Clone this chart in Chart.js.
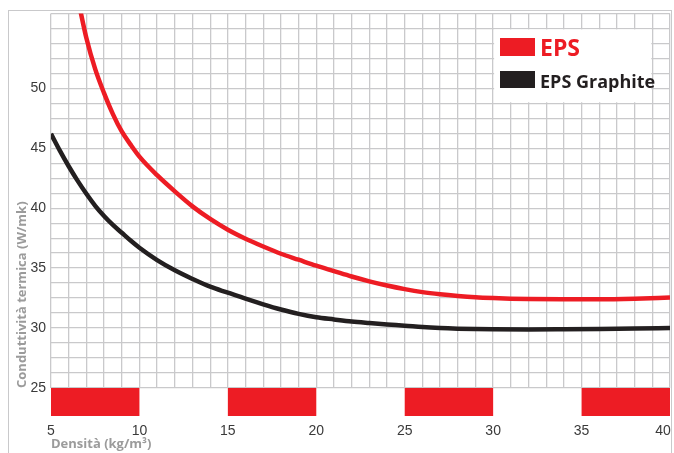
<!DOCTYPE html>
<html lang="it">
<head>
<meta charset="UTF-8">
<title>Conduttività termica EPS</title>
<script src="https://cdn.jsdelivr.net/npm/chart.js"></script>
<style>
  html, body { margin: 0; padding: 0; background: #fff; }
  #wrap { position: relative; width: 674px; height: 453px; }
  #frame {
    position: absolute; left: 8px; top: 10px; width: 664px; height: 460px;
    border-left: 1.5px solid #c9c9cb; border-top: 1.5px solid #c9c9cb; border-right: 1.5px solid #c9c9cb;
    box-sizing: border-box;
  }
  canvas { position: absolute; left: 0; top: 0; }
</style>
</head>
<body>
<div id="wrap">
  <div id="frame"></div>
  <canvas id="chart" width="674" height="453"></canvas>
</div>
<script>
// densità (kg/m3) and conduttività termica
const epsDensity = [6.6, 7, 7.5, 8, 8.5, 9, 9.5, 10, 11, 12, 13, 14, 15, 16, 17, 18, 19, 20, 21, 22, 23, 24, 25, 26, 27, 28, 29, 30, 31, 32, 34, 36, 38, 40];
const epsValues  = [56.9, 54.2, 51.6, 49.6, 47.85, 46.4, 45.3, 44.3, 42.75, 41.4, 40.15, 39.1, 38.2, 37.45, 36.8, 36.2, 35.7, 35.2, 34.75, 34.3, 33.9, 33.55, 33.25, 33.0, 32.82, 32.68, 32.57, 32.5, 32.45, 32.42, 32.4, 32.4, 32.45, 32.55];

const graphiteDensity = [5, 5.5, 6, 6.5, 7, 7.5, 8, 8.5, 9, 9.5, 10, 11, 12, 13, 14, 15, 16, 17, 18, 19, 20, 21, 22, 23, 24, 25, 26, 27, 28, 29, 30, 32, 34, 36, 38, 40];
const graphiteValues  = [46.2, 44.8, 43.5, 42.3, 41.2, 40.2, 39.35, 38.6, 37.95, 37.3, 36.7, 35.67, 34.82, 34.1, 33.45, 32.95, 32.45, 31.98, 31.55, 31.18, 30.9, 30.72, 30.55, 30.42, 30.3, 30.2, 30.08, 30.0, 29.95, 29.92, 29.9, 29.88, 29.9, 29.93, 29.97, 30.0];

const densityBands = [[5, 10], [15, 20], [25, 30], [35, 40]];
const xTickLabels = [5, 10, 15, 20, 25, 30, 35, 40];
const yTickLabels = [25, 30, 35, 40, 45, 50];

const RED = '#ed1c24';
const BLACK = '#231f20';
const GRID = '#c9c9cb';

const toPoints = (xs, ys) => xs.map((x, i) => ({ x: x, y: ys[i] }));

// red blocks under the grid + legend box inside the plot
const extras = {
  id: 'extras',
  afterDatasetsDraw(chart) {
    const { ctx, chartArea, scales: { x, y } } = chart;
    ctx.save();
    ctx.fillStyle = RED;
    densityBands.forEach(([a, b]) => {
      const x1 = x.getPixelForValue(a), x2 = x.getPixelForValue(b);
      ctx.fillRect(x1, chartArea.bottom, x2 - x1, 28);
    });

    // legend
    const lx1 = x.getPixelForValue(30) + 1, lx2 = x.getPixelForValue(39) - 1;
    const ly1 = y.getPixelForValue(55) + 1, ly2 = y.getPixelForValue(48.75) - 1;
    ctx.fillStyle = '#fff';
    ctx.fillRect(lx1, ly1, lx2 - lx1, ly2 - ly1);

    const ds = chart.data.datasets;
    ctx.fillStyle = ds[0].borderColor;
    ctx.fillRect(500, 38, 35, 18);
    ctx.fillStyle = ds[1].borderColor;
    ctx.fillRect(500, 71, 35, 17);

    ctx.textBaseline = 'alphabetic';
    ctx.textAlign = 'left';
    ctx.fillStyle = ds[0].borderColor;
    ctx.font = 'bold 23px "Open Sans"';
    ctx.fillText(ds[0].label, 540, 55.5);
    ctx.fillStyle = ds[1].borderColor;
    ctx.font = 'bold 18px "Open Sans"';
    ctx.fillText(ds[1].label, 540, 88);
    ctx.restore();
  }
};

new Chart(document.getElementById('chart'), {
  type: 'line',
  data: {
    datasets: [
      { label: 'EPS', data: toPoints(epsDensity, epsValues), borderColor: RED, borderWidth: 4.5 },
      { label: 'EPS Graphite', data: toPoints(graphiteDensity, graphiteValues), borderColor: BLACK, borderWidth: 4.5 }
    ]
  },
  options: {
    responsive: false,
    animation: false,
    layout: { padding: { left: 12, top: 10, right: 4, bottom: 0 } },
    elements: {
      point: { radius: 0 },
      line: { cubicInterpolationMode: 'monotone', fill: false }
    },
    plugins: { legend: { display: false }, tooltip: { enabled: false } },
    scales: {
      x: {
        type: 'linear', min: 5, max: 40,
        border: { display: false },
        grid: { color: GRID, lineWidth: 1.3, drawTicks: false },
        ticks: {
          stepSize: 1, autoSkip: false, maxRotation: 0, padding: 35,
          color: '#3a3a3a', font: { family: 'Liberation Sans', size: 14 },
          // last label sits inside the frame, like the original
          callback: v => xTickLabels.includes(v) ? (v === 40 ? '40\u2002\u2002' : String(v)) : ''
        },
        title: {
          display: true, text: 'Densità (kg/m³)', align: 'start',
          color: '#9b9b9b', font: { family: 'Open Sans', size: 13, weight: 'bold' },
          padding: { top: 0, bottom: 1 }
        },
        afterFit: s => { s.height = 65; s.paddingLeft = 0; s.paddingRight = 0; }
      },
      y: {
        min: 25, max: 56.25,
        border: { display: false },
        grid: { color: GRID, lineWidth: 1.3, drawTicks: false },
        ticks: {
          stepSize: 1.25, autoSkip: false, padding: 5,
          color: '#3a3a3a', font: { family: 'Liberation Sans', size: 14 },
          callback: v => yTickLabels.includes(v) ? String(v) : ''
        },
        title: {
          display: true, text: 'Conduttività termica (W/mk)', align: 'start',
          color: '#9b9b9b', font: { family: 'Open Sans', size: 13, weight: 'bold' },
          padding: { top: 2, bottom: 0 }
        },
        afterFit: s => { s.width = 39; }
      }
    }
  },
  plugins: [extras]
});
</script>
</body>
</html>
